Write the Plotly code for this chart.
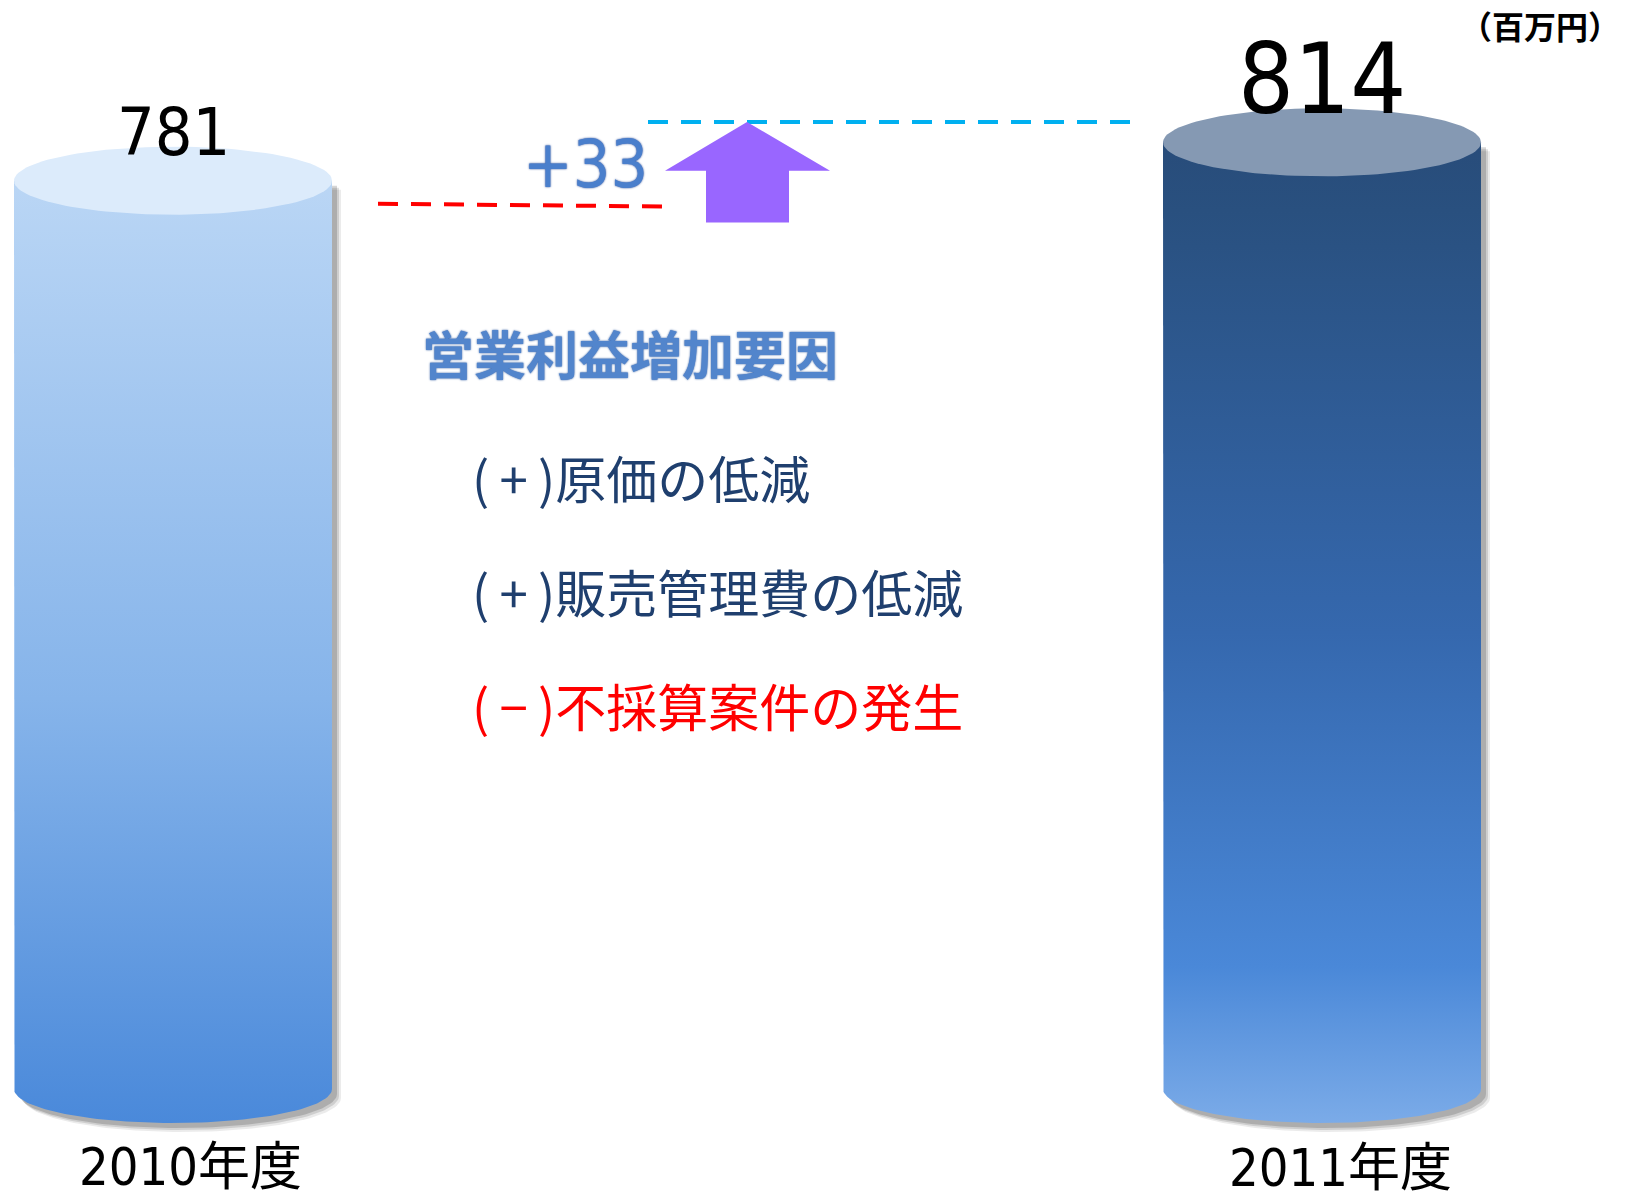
import numpy as np
import plotly.graph_objects as go

# ---- data ----
categories = ["2010年度", "2011年度"]
values = [781, 814]
value_labels = ["781", "814"]
delta_label = "+33"
unit_label = "（百万円）"
heading = "営業利益増加要因"
factors = ["(\u2009+\u2009)原価の低減", "(\u2009+\u2009)販売管理費の低減", "(\u2009−\u2009)不採算案件の発生"]
factor_colors = ["#1F3F6E", "#1F3F6E", "#FF0000"]

# ---- layout geometry (pixel-like x axis, data y axis) ----
W, H = 1626, 1201
base_px = 1089.0
k = 1.163  # px per unit
y_lo = (base_px - H) / k
y_hi = base_px / k

centers = [173, 1322]
rx = 159
ry = 34 / k

body_scales = [
    [[0.0, "#4A89DA"], [0.45, "#86B4EA"], [1.0, "#BAD6F5"]],
    [[0.0, "#7BABE8"], [0.16, "#4A88D8"], [0.5, "#3568AE"], [0.93, "#29507F"], [1.0, "#284C7A"]],
]
top_colors = ["#DCEBFB", "#8599B3"]

fig = go.Figure()

def body_path(c, v, dx=0.0, dy=0.0):
    t = np.linspace(0, np.pi, 80)
    xs = [c - rx, c - rx] + list(c - rx * np.cos(t)) + [c + rx, c - rx]
    ys = [v, 0] + list(0 - ry * np.sin(t)) + [v, v]
    return [x + dx for x in xs], [y + dy for y in ys]

def ellipse(c, v):
    t = np.linspace(0, 2 * np.pi, 120)
    return list(c + rx * np.cos(t)), list(v + ry * np.sin(t))

# shadows
for c, v in zip(centers, values):
    for dx, dy, a in [(9, -9, 0.08), (7, -7, 0.12), (5, -5, 0.16)]:
        xs, ys = body_path(c, v, dx, dy / k)
        fig.add_trace(go.Scatter(x=xs, y=ys, fill="toself", mode="lines",
                                 line=dict(width=0), fillcolor=f"rgba(0,0,0,{a})",
                                 hoverinfo="skip", showlegend=False))

# bodies
for i, (c, v, sc) in enumerate(zip(centers, values, body_scales)):
    xs, ys = body_path(c, v)
    fig.add_trace(go.Scatter(x=xs, y=ys, fill="toself", mode="lines",
                             line=dict(width=0),
                             fillgradient=dict(type="vertical", colorscale=sc, start=-ry, stop=v),
                             hoverinfo="skip", showlegend=False))
    ex, ey = ellipse(c, v)
    fig.add_trace(go.Scatter(x=ex, y=ey, fill="toself", mode="lines",
                             line=dict(width=0), fillcolor=top_colors[i],
                             hoverinfo="skip", showlegend=False))

# dashed reference lines
red_level = values[0] - 21
cyan_level = values[1] + 17.5
fig.add_trace(go.Scatter(x=[378, 664], y=[red_level + 1.2, red_level - 1.2], mode="lines",
                         line=dict(color="#FF0000", width=4, dash="20px,13px"),
                         hoverinfo="skip", showlegend=False))
fig.add_trace(go.Scatter(x=[648, 1130], y=[cyan_level, cyan_level], mode="lines",
                         line=dict(color="#00B0F0", width=4, dash="20px,13px"),
                         hoverinfo="skip", showlegend=False))

# arrow (from below red level up to cyan level)
ax_c = 747
a_bottom = red_level - 15
a_head = cyan_level - 42
ax = [ax_c - 41, ax_c - 41, ax_c - 82, ax_c, ax_c + 83, ax_c + 42, ax_c + 42, ax_c - 41]
ay = [a_bottom, a_head, a_head, cyan_level, a_head, a_head, a_bottom, a_bottom]
fig.add_trace(go.Scatter(x=ax, y=ay, fill="toself", mode="lines", line=dict(width=0),
                         fillcolor="#9966FF", hoverinfo="skip", showlegend=False))

num_font = "DejaVu Sans Condensed, Liberation Sans Narrow, Noto Sans CJK JP"
annotations = []
for c, v, lab, ys, fs in zip(centers, values, value_labels, [48, 63], [66, 98]):
    annotations.append(dict(x=c, y=v, yshift=ys, text=lab, showarrow=False,
                            font=dict(family=num_font, size=fs, color="#000000"),
                            xanchor="center", yanchor="middle"))
for c, cat, xs_, ys_ in zip(centers, categories, [17, 18], [-78, -79]):
    annotations.append(dict(x=c, y=0, xshift=xs_, yshift=ys_, text=cat, showarrow=False,
                            font=dict(family=num_font, size=52, color="#000000"),
                            xanchor="center", yanchor="middle"))
annotations.append(dict(x=1540, y=1 - 25 / H, xref="x", yref="paper", text=unit_label,
                        showarrow=False, xanchor="center", yanchor="middle",
                        font=dict(family="Noto Sans CJK JP", size=32, color="#000000", weight="bold")))
annotations.append(dict(x=650, y=1 - 164 / H, xref="x", yref="paper", text=delta_label,
                        showarrow=False, xanchor="right", yanchor="middle",
                        font=dict(family=num_font, size=66, color="#4A7FCC",
                                  shadow="0 0 2px #1B3F8F")))
annotations.append(dict(x=420, y=1 - 353 / H, xref="x", yref="paper", text=heading,
                        showarrow=False, xanchor="left", yanchor="middle",
                        font=dict(family="Noto Sans CJK JP", size=52, color="#5285CC", weight="bold",
                                  shadow="0 0 2px #1F4E99")))
for i, (txt, col) in enumerate(zip(factors, factor_colors)):
    annotations.append(dict(x=470, y=1 - (477 + 114 * i) / H, xref="x", yref="paper", text=txt,
                            showarrow=False, xanchor="left", yanchor="middle",
                            font=dict(family="Noto Sans CJK JP", size=51, color=col)))

fig.update_layout(
    width=W, height=H, margin=dict(l=0, r=0, t=0, b=0),
    paper_bgcolor="white", plot_bgcolor="white",
    xaxis=dict(range=[0, W], visible=False, fixedrange=True),
    yaxis=dict(range=[y_lo, y_hi], visible=False, fixedrange=True),
    annotations=annotations, showlegend=False,
)
fig.write_html("out.html")
